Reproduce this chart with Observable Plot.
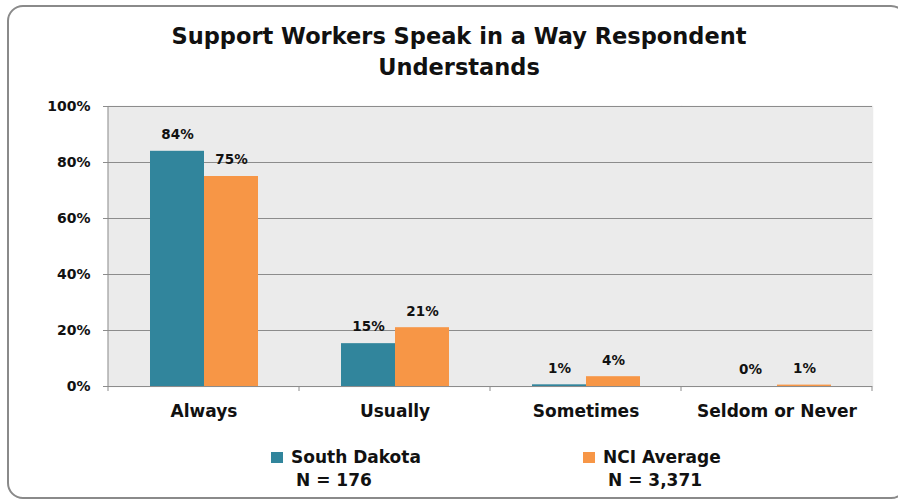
<!DOCTYPE html>
<html>
<head>
<meta charset="utf-8">
<script src="https://cdn.jsdelivr.net/npm/d3@7"></script>
<script src="https://cdn.jsdelivr.net/npm/@observablehq/plot@0.6"></script>
<style>
  html, body { margin: 0; padding: 0; background: #fff; }
  body { width: 898px; height: 503px; overflow: hidden; position: relative; font-family: "DejaVu Sans", sans-serif; }
  #frame { position: absolute; left: 7px; top: 5px; width: 900px; height: 494px; border: 2px solid #8a8a8a; border-radius: 16px; box-sizing: border-box; }
  #title { position: absolute; left: 20px; width: 878px; top: 21px; text-align: center; font-weight: bold; font-size: 22.5px; line-height: 31px; color: #111; }
  #chart { position: absolute; left: 0; top: 90px; }
  .leg { position: absolute; font-weight: bold; font-size: 17px; color: #111; line-height: 23px; }
  .sw { display: inline-block; width: 12px; height: 11px; margin-right: 8px; vertical-align: 0px; }
  .n { padding-left: 25px; }
</style>
</head>
<body>
<div id="frame"></div>
<div id="title">Support Workers Speak in a Way Respondent<br>Understands</div>
<div id="chart"></div>
<div id="legend"></div>
<script>
const categories = ["Always", "Usually", "Sometimes", "Seldom or Never"];
const series = ["South Dakota", "NCI Average"];
const seriesN = ["N = 176", "N = 3,371"];
const southDakota = [84, 15.3, 0.6, 0];
const nciAverage = [75, 21, 3.5, 0.5];
const colors = ["#31859c", "#f79646"];
const yTicks = [0, 20, 40, 60, 80, 100];

const values = [southDakota, nciAverage];
const data = categories.flatMap((c, i) => series.map((s, j) => ({
  category: c, series: s, value: values[j][i], label: Math.round(values[j][i]) + "%"
})));

const chart = Plot.plot({
  width: 898,
  height: 340,
  marginLeft: 108,
  marginRight: 26,
  marginTop: 16,
  marginBottom: 44,
  style: { fontFamily: "DejaVu Sans, sans-serif", background: "transparent", overflow: "visible" },
  fx: { domain: categories, padding: 0, label: null },
  x: { domain: series, paddingInner: 0, paddingOuter: 0.75, axis: null },
  y: { domain: [0, 100], label: null },
  color: { domain: series, range: colors },
  marks: [
    Plot.frame({ fill: "#ebebeb", stroke: "#ebebeb", strokeWidth: 1.5 }),
    Plot.gridY(yTicks, { stroke: "#8c8c8c", strokeOpacity: 1, strokeWidth: 1 }),
    Plot.barY(data, { fx: "category", x: "series", y: "value", fill: "series" }),
    Plot.text(data, { fx: "category", x: "series", y: "value", text: "label", dy: -16.5, fontSize: 13.5, fontWeight: "bold", fill: "#111" }),
    Plot.ruleY([0], { stroke: "#8c8c8c" }),
    Plot.axisY(yTicks, { tickFormat: d => d + "%", tickSize: 5, tickPadding: 13, fontSize: 14, fontWeight: "bold", stroke: "#8c8c8c", fill: "#111" }),
    Plot.axisFx({ anchor: "bottom", tickSize: 0, tickPadding: 18, fontSize: 17, fontWeight: "bold", fill: "#111", label: null })
  ]
});
document.getElementById("chart").appendChild(chart);

// axis line and category boundary ticks, placed from the plot's own scales
const fxs = chart.scale("fx");
const ys = chart.scale("y");
const yScale = d3.scaleLinear(ys.domain, ys.range);
const svg = d3.select(chart.tagName === "svg" ? chart : chart.querySelector("svg"));
const x0 = fxs.range[0];
const step = (fxs.range[1] - fxs.range[0]) / categories.length;
svg.append("line").attr("x1", x0).attr("x2", x0).attr("y1", yScale(100)).attr("y2", yScale(0) + 5).attr("stroke", "#8c8c8c");
for (let i = 1; i <= categories.length; i++) {
  const xx = x0 + i * step;
  svg.append("line").attr("x1", xx).attr("x2", xx).attr("y1", yScale(0)).attr("y2", yScale(0) + 5).attr("stroke", "#8c8c8c");
}

// legend
const legendPos = [[271, 446], [583, 446]];
const legend = document.getElementById("legend");
series.forEach((s, j) => {
  const div = document.createElement("div");
  div.className = "leg";
  div.style.left = legendPos[j][0] + "px";
  div.style.top = legendPos[j][1] + "px";
  div.innerHTML = `<div><span class="sw" style="background:${colors[j]}"></span>${s}</div><div class="n">${seriesN[j]}</div>`;
  legend.appendChild(div);
});
</script>
</body>
</html>
